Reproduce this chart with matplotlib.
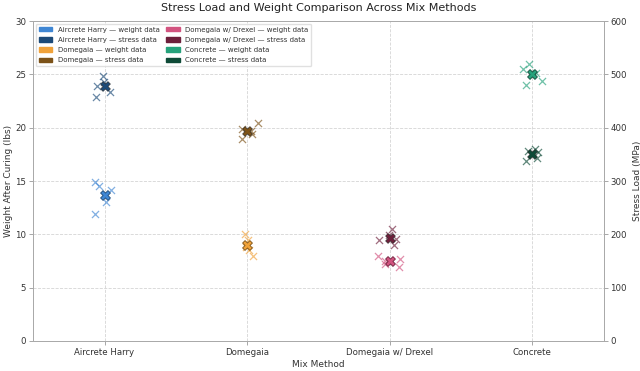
import numpy as np
import matplotlib
matplotlib.use("Agg")
import matplotlib.pyplot as plt
from matplotlib.patches import Patch

methods = ["Aircrete Harry", "Domegaia", "Domegaia w/ Drexel", "Concrete"]

# weight after curing (lbs)
weight_aircrete = [14.9, 14.5, 14.2, 13.0, 11.9]
weight_domegaia = [10.0, 9.5, 8.8, 8.5, 8.0]
weight_drexel = [8.0, 7.7, 7.5, 7.2, 6.9]
weight_concrete = [26.0, 25.5, 25.1, 24.4, 24.0]

# stress load (MPa)
stress_aircrete = [498, 485, 478, 468, 458]
stress_domegaia = [408, 398, 393, 388, 378]
stress_drexel = [210, 198, 192, 190, 180]
stress_concrete = [360, 357, 354, 344, 337]

weight_colors = ["#3f86d3", "#f0a23a", "#d2537f", "#26a27b"]
stress_colors = ["#1c4a78", "#7c5218", "#6e1f3b", "#0e4a37"]

weights = [weight_aircrete, weight_domegaia, weight_drexel, weight_concrete]
stresses = [stress_aircrete, stress_domegaia, stress_drexel, stress_concrete]

fig, ax = plt.subplots(figsize=(6.4, 3.71), dpi=100)
ax2 = ax.twinx()

rng = np.random.default_rng(3)
x = np.arange(len(methods))

for i in range(len(methods)):
    w = np.array(weights[i])
    s = np.array(stresses[i])
    jw = rng.uniform(-0.08, 0.08, len(w))
    js = rng.uniform(-0.08, 0.08, len(s))
    ax.scatter(x[i] + jw, w, marker="x", s=26, color=weight_colors[i],
               alpha=0.65, linewidths=0.9, zorder=3)
    ax.scatter(x[i], w.mean(), marker="X", s=50, color=weight_colors[i],
               edgecolor=stress_colors[i], linewidths=0.6, zorder=4)
    ax2.scatter(x[i] + js, s, marker="x", s=26, color=stress_colors[i],
                alpha=0.65, linewidths=0.9, zorder=3)
    ax2.scatter(x[i], s.mean(), marker="X", s=50, color=stress_colors[i],
                edgecolor="#222222", linewidths=0.4, zorder=4)

ax.set_xlim(-0.5, 3.5)
ax.set_ylim(0, 30)
ax2.set_ylim(0, 600)
ax.set_xticks(x)
ax.set_xticklabels(methods)
for a in (ax, ax2):
    a.tick_params(labelsize=6.2, length=3, width=0.6, color="#999999",
                  pad=2, labelcolor="#333333")
ax.set_xlabel("Mix Method", fontsize=6.5, labelpad=2, color="#333333")
ax.set_ylabel("Weight After Curing (lbs)", fontsize=6.5, labelpad=2,
              color="#333333")
ax2.set_ylabel("Stress Load (MPa)", fontsize=6.5, labelpad=4,
               color="#333333")
ax.set_title("Stress Load and Weight Comparison Across Mix Methods",
             fontsize=8, pad=7, color="#222222")
ax.grid(True, linestyle="--", color="#d5d5d5", linewidth=0.6)
ax.set_axisbelow(True)

for a in (ax, ax2):
    for sp in a.spines.values():
        sp.set_color("#aaaaaa")
        sp.set_linewidth(0.7)

handles = []
for i, m in enumerate(methods):
    handles.append(Patch(color=weight_colors[i], label=f"{m} — weight data"))
    handles.append(Patch(color=stress_colors[i], label=f"{m} — stress data"))
ax2.legend(handles=handles, loc="upper left", ncol=2, fontsize=5,
           handlelength=1.9, handleheight=0.6, framealpha=0.9,
           edgecolor="#dddddd", borderaxespad=0.4, columnspacing=1.0,
           labelspacing=0.6, labelcolor="#333333")

fig.subplots_adjust(left=0.052, right=0.943, top=0.943, bottom=0.081)
fig.savefig("out.png", dpi=100)
